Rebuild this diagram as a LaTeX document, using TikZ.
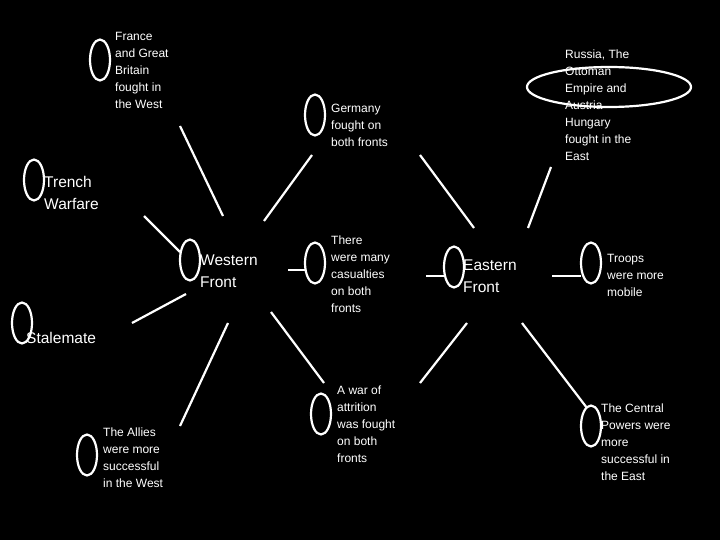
\documentclass[tikz,border=0pt]{standalone}
\usepackage{fontspec}
\usetikzlibrary{shapes.geometric}
\setmainfont{Liberation Sans}
\begin{document}
\begin{tikzpicture}[x=1pt,y=-1pt,
  ov/.style={draw=white,line width=2.2pt,ellipse,inner sep=0pt,minimum width=20pt,minimum height=41pt},
  ln/.style={draw=white,line width=2.2pt},
  sm/.style={text=white,anchor=north west,inner sep=0pt,align=left,font=\fontsize{12}{17}\selectfont},
  bg/.style={text=white,anchor=north west,inner sep=0pt,align=left,font=\fontsize{15.5}{22}\selectfont}]
\fill[black] (0,0) rectangle (720,540);
\useasboundingbox (0,0) rectangle (720,540);
% ovals
\node[ov] (o1) at (100,60) {};
\node[ov] (o2) at (315,115) {};
\node[ov] (o3) at (34,180) {};
\node[ov] (o4) at (190,260) {};
\node[ov] (o5) at (315,263) {};
\node[ov] (o6) at (22,323) {};
\node[ov] (o7) at (454,267) {};
\node[ov,minimum width=164pt,minimum height=40pt] (o8) at (609,87) {};
\node[ov] (o9) at (591,263) {};
\node[ov] (o10) at (87,455) {};
\node[ov] (o11) at (321,414) {};
\node[ov] (o12) at (591,426) {};
% texts
\node[sm] (t1) at (115,32) {France\\and Great\\Britain\\fought in\\the West};
\node[sm] (t2) at (331,104) {Germany\\fought on\\both fronts};
\node[bg] (t3) at (44,176) {Trench\\Warfare};
\node[bg] (t4) at (200,255) {Western\\Front};
\node[sm] (t5) at (331,236) {There\\were many\\casualties\\on both\\fronts};
\node[bg] (t6) at (26,332) {Stalemate};
\node[bg] (t7) at (463,260) {Eastern\\Front};
\node[sm] (t8) at (565,50) {Russia, The\\Ottoman\\Empire and\\Austria\\Hungary\\fought in the\\East};
\node[sm] (t9) at (607,254) {Troops\\were more\\mobile};
\node[sm] (t10) at (103,428) {The Allies\\were more\\successful\\in the West};
\node[sm] (t11) at (337,386) {A war of\\attrition\\was fought\\on both\\fronts};
\node[sm] (t12) at (601,404) {The Central\\Powers were\\more\\successful in\\the East};
% connector ends
\coordinate (a1) at (180,126); \coordinate (b1) at (223,216);
\coordinate (a2) at (312,155); \coordinate (b2) at (264,221);
\coordinate (a3) at (144,216); \coordinate (b3) at (180,252);
\coordinate (a4) at (132,323); \coordinate (b4) at (186,294);
\coordinate (a5) at (288,270); \coordinate (b5) at (305,270);
\coordinate (a6) at (228,323); \coordinate (b6) at (180,426);
\coordinate (a7) at (271,312); \coordinate (b7) at (324,383);
\coordinate (a8) at (420,155); \coordinate (b8) at (474,228);
\coordinate (a9) at (551,167); \coordinate (b9) at (528,228);
\coordinate (a10) at (426,276); \coordinate (b10) at (444,276);
\coordinate (a11) at (552,276); \coordinate (b11) at (581,276);
\coordinate (a12) at (467,323); \coordinate (b12) at (420,383);
\coordinate (a13) at (522,323); \coordinate (b13) at (587,408);
\foreach \i in {1,...,13} \draw[ln] (a\i) -- (b\i);
\end{tikzpicture}
\end{document}
